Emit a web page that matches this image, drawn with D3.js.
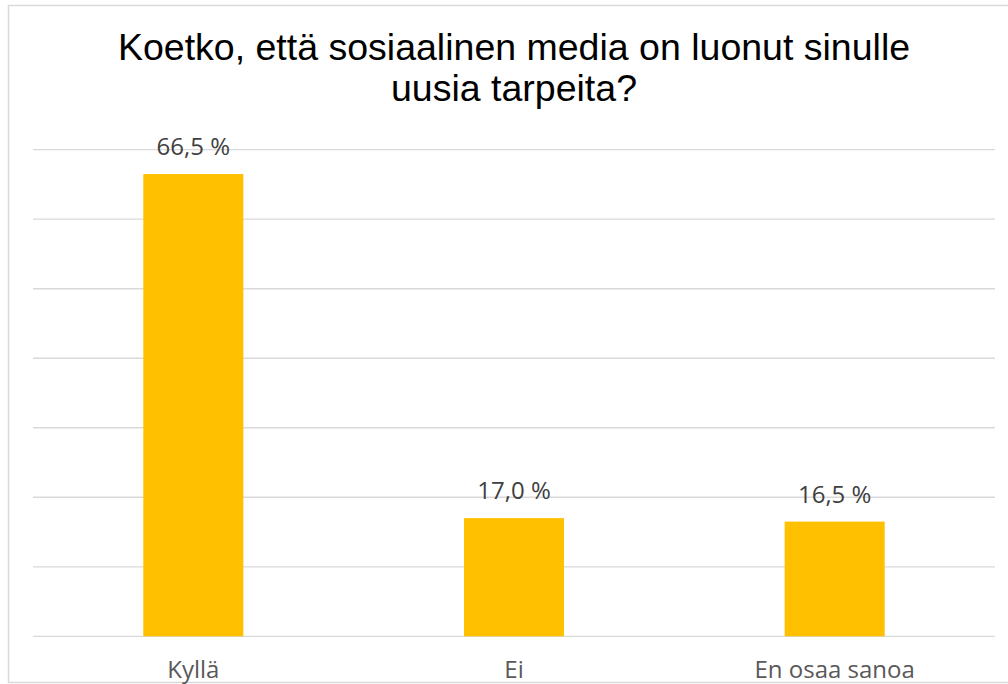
<!DOCTYPE html>
<html>
<head>
<meta charset="utf-8">
<script src="https://cdn.jsdelivr.net/npm/d3@7"></script>
<style>
  html, body { margin: 0; padding: 0; background: #fff; }
  svg { display: block; }
</style>
</head>
<body>
<svg id="chart" width="1008" height="684"></svg>
<script>
// Survey answers, share of respondents (%)
const categories = ["Kyllä", "Ei", "En osaa sanoa"];
const shares = [66.5, 17.0, 16.5];
const yTicks = [0, 10, 20, 30, 40, 50, 60, 70];
const titleLines = ["Koetko, että sosiaalinen media on luonut sinulle", "uusia tarpeita?"];

const svg = d3.select("#chart");

// outer chart frame
svg.append("rect")
  .attr("x", 8.5).attr("y", 5.5)
  .attr("width", 1010).attr("height", 677)
  .attr("fill", "#fff")
  .attr("stroke", "#d9d9d9")
  .attr("stroke-width", 1.5);

const plot = { left: 33, right: 995, top: 149.7, bottom: 636.3 };

const x = d3.scaleBand()
  .domain(categories)
  .range([plot.left, plot.right])
  .paddingInner(0.688)
  .paddingOuter(0.344);

const y = d3.scaleLinear()
  .domain([0, 70])
  .range([plot.bottom, plot.top]);

// horizontal gridlines
svg.append("g")
  .selectAll("line")
  .data(yTicks)
  .join("line")
  .attr("x1", plot.left).attr("x2", plot.right)
  .attr("y1", d => y(d)).attr("y2", d => y(d))
  .attr("stroke", "#d9d9d9")
  .attr("stroke-width", 1.3);

// bars
svg.append("g")
  .selectAll("rect")
  .data(categories)
  .join("rect")
  .attr("x", d => x(d))
  .attr("width", x.bandwidth())
  .attr("y", (d, i) => y(shares[i]))
  .attr("height", (d, i) => y(0) - y(shares[i]))
  .attr("fill", "#ffc000");

const fmt = v => v.toFixed(1).replace(".", ",") + " %";

// value labels
svg.append("g")
  .selectAll("text")
  .data(categories)
  .join("text")
  .attr("x", d => x(d) + x.bandwidth() / 2)
  .attr("y", (d, i) => y(shares[i]) - 19)
  .attr("text-anchor", "middle")
  .attr("font-family", "'Open Sans', sans-serif")
  .attr("font-size", 24)
  .attr("fill", "#404040")
  .text((d, i) => fmt(shares[i]));

// category axis labels
const xAxis = d3.axisBottom(x).tickSize(0).tickPadding(0);
const gx = svg.append("g")
  .attr("transform", `translate(0,${plot.bottom})`)
  .call(xAxis);
gx.select(".domain").remove();
gx.selectAll("text")
  .attr("dy", 0)
  .attr("y", 678 - plot.bottom)
  .attr("font-family", "'Open Sans', sans-serif")
  .attr("font-size", 24)
  .attr("fill", "#595959");

// title
svg.append("text")
  .attr("text-anchor", "middle")
  .attr("font-family", "'Liberation Sans', Arial, sans-serif")
  .attr("font-size", 37.5)
  .attr("fill", "#000")
  .selectAll("tspan")
  .data(titleLines)
  .join("tspan")
  .attr("x", 514)
  .attr("y", (d, i) => 60 + i * 41)
  .text(d => d);
</script>
</body>
</html>
